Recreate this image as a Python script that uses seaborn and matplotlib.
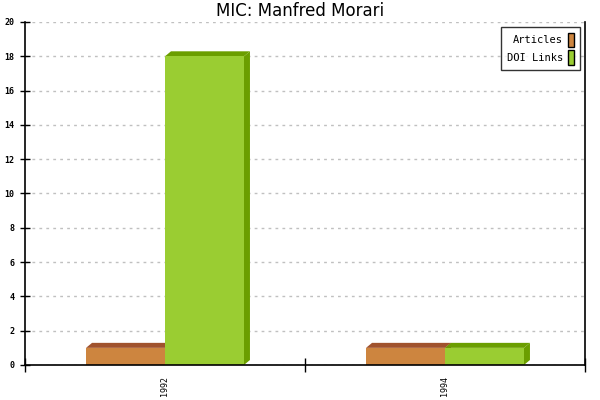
import matplotlib
matplotlib.use("Agg")
import matplotlib.pyplot as plt
import seaborn as sns
import pandas as pd
from matplotlib.patches import Polygon, Rectangle

years = ["1992", "1994"]
articles = [1, 1]
doi_links = [18, 1]
series = ["Articles", "DOI Links"]
colors = ["#CD853F", "#9ACD32"]
dark_colors = ["#A0522D", "#6B9E00"]

df = pd.DataFrame({
    "year": years * 2,
    "value": articles + doi_links,
    "series": [series[0]] * len(years) + [series[1]] * len(years),
})

sns.set_theme(style="white")
plt.rcParams["font.family"] = ["DejaVu Sans"]
plt.rcParams["text.color"] = "black"
plt.rcParams["xtick.color"] = "black"
plt.rcParams["ytick.color"] = "black"

fig = plt.figure(figsize=(6, 4), dpi=100)
ax = fig.add_axes([25 / 600, 35 / 400, 560 / 600, 343 / 400])

sns.barplot(data=df, x="year", y="value", hue="series", palette=colors,
            width=0.564, gap=0, saturation=1, ax=ax, legend=False,
            edgecolor="none", linewidth=0)

ax.set_xlim(-0.5, 1.5)
ax.set_ylim(0, 20)

# 3D depth in data units (6px right, 5px up)
dx = 6 / 280
dy = 5 * 20 / 343
for i, p in enumerate(ax.patches[:]):
    s = 0 if i < len(years) else 1
    x0, y0 = p.get_x(), p.get_y()
    w, h = p.get_width(), p.get_height()
    x1, y1 = x0 + w, y0 + h
    z = p.get_zorder() + i * 0.01
    p.set_zorder(z + 0.005)
    top = Polygon([(x0, y1), (x0 + dx, y1 + dy), (x1 + dx, y1 + dy), (x1, y1)],
                  closed=True, facecolor=dark_colors[s], edgecolor="none", zorder=z)
    side = Polygon([(x1, y0), (x1 + dx, y0 + dy), (x1 + dx, y1 + dy), (x1, y1)],
                   closed=True, facecolor=dark_colors[s], edgecolor="none", zorder=z)
    ax.add_patch(top)
    ax.add_patch(side)

mono = "DejaVu Sans Mono"
ax.set_yticks(range(0, 21, 2))
ax.set_yticklabels([str(v) for v in range(0, 21, 2)], fontsize=6, family=mono,
                   fontweight="bold", color="black")
ax.tick_params(axis="y", left=True, direction="inout", length=7, width=1,
               color="black", pad=4, labelcolor="black")

ax.set_xticks([-0.5, 0.5, 1.5])
ax.set_xticklabels(["", "", ""])
ax.tick_params(axis="x", which="major", bottom=True, direction="inout",
               length=10, width=1, color="black")
ax.set_xticks([0, 1], minor=True)
ax.set_xticklabels(years, minor=True, rotation=90, fontsize=6, family=mono,
                   color="black")
ax.tick_params(axis="x", which="minor", bottom=True, length=0, pad=8,
               labelcolor="black")

ax.grid(axis="y", color="#c0c0c0", linestyle=(0, (2, 3)), linewidth=1)
ax.set_axisbelow(True)
ax.set_xlabel("")
ax.set_ylabel("")

for side_name in ["left", "bottom", "right"]:
    ax.spines[side_name].set_visible(True)
    ax.spines[side_name].set_color("black")
    ax.spines[side_name].set_linewidth(1.2)
ax.spines["top"].set_visible(False)

handles = [Rectangle((0, 0), 1, 1, facecolor=c, edgecolor="black", linewidth=1) for c in colors]
leg = ax.legend(handles, series, loc="upper right", markerfirst=False,
                prop={"family": mono, "size": 7.5}, frameon=True, fancybox=False,
                edgecolor="black", handlelength=0.6, handleheight=1.7,
                handletextpad=0.5, borderpad=0.55, labelspacing=0.35,
                borderaxespad=0, bbox_to_anchor=(1 - 5 / 560, 1 - 5 / 343))
leg.get_frame().set_linewidth(1)
for t in leg.get_texts():
    t.set_color("black")

fig.suptitle("MIC: Manfred Morari", fontsize=12, y=0.995, color="black")

fig.savefig("out.png", dpi=100)
